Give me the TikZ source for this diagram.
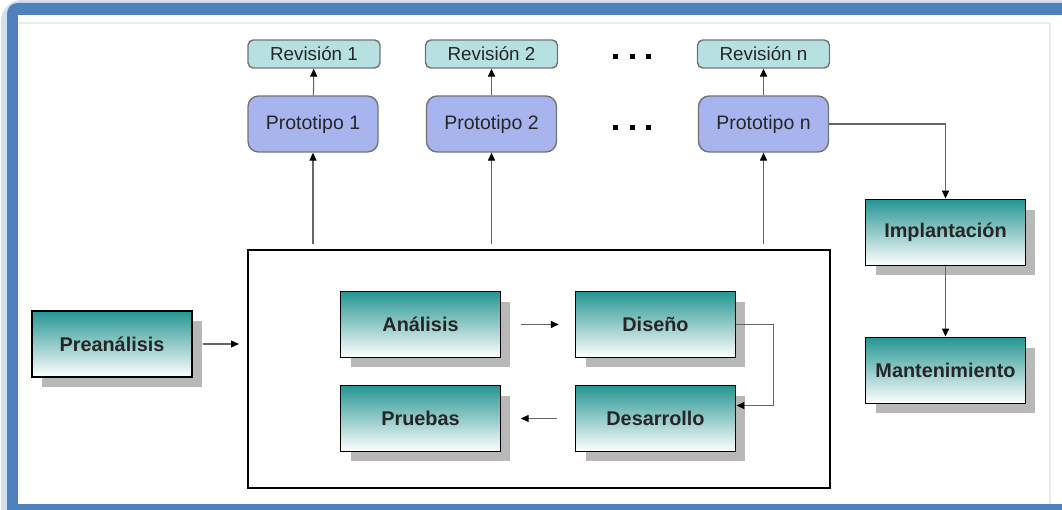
\documentclass[tikz,border=0pt]{standalone}
\usepackage{fontspec}
\setmainfont{Liberation Sans}
\usetikzlibrary{arrows.meta,shadows,calc}
\definecolor{marco}{RGB}{79,129,189}
\definecolor{revfill}{RGB}{182,225,224}
\definecolor{protofill}{RGB}{168,180,238}
\definecolor{fasetop}{RGB}{38,150,146}
\begin{document}
\begin{tikzpicture}[x=0.02cm,y=-0.02cm,
    revision/.style={draw=black!55,line width=0.8pt,rounded corners=3pt,fill=revfill,minimum width=2.64cm,minimum height=0.56cm,font=\fontsize{10.7}{12}\selectfont,text=black!85},
    prototipo/.style={draw=black!55,line width=0.8pt,rounded corners=6pt,fill=protofill,minimum width=2.6cm,minimum height=1.12cm,font=\fontsize{11.1}{13}\selectfont,text=black!85},
    fase/.style={draw=black,line width=1.1pt,top color=fasetop,bottom color=white,minimum width=3.2cm,minimum height=1.32cm,font=\bfseries\fontsize{11.3}{13}\selectfont,text=black!85,drop shadow={shadow xshift=0.2cm,shadow yshift=-0.2cm,fill=black!28,opacity=1}},
    flecha/.style={draw=black!60,line width=0.6pt,-{Triangle[length=4.5pt,width=4pt,color=black]}}]
    \clip (0,0) rectangle (1062,510);
    \fill[marco!25,rounded corners=12pt] (1,0) rectangle (1100,540);
    \fill[marco,rounded corners=6pt] (7,3) rectangle (1100,540);
    \fill[white] (18,15) rectangle (1062,504);
    \draw[black!8,line width=1.5pt] (18,23) -- (1050,23) -- (1050,504);
    \node[revision] (rev1) at (314,54) {Revisión 1};
    \node[revision] (rev2) at (491.5,54) {Revisión 2};
    \node[revision] (revn) at (763.5,54) {Revisión n};
    \node[prototipo] (proto1) at (313,124) {Prototipo 1};
    \node[prototipo] (proto2) at (491.5,124) {Prototipo 2};
    \node[prototipo] (proton) at (763.5,124) {Prototipo n};
    \foreach \x in {615,632,648} {
        \fill (\x-2.5,54.5) rectangle ++(5,5);
        \fill (\x-2.5,125.5) rectangle ++(5,5);
    }
    \node[draw,line width=1.4pt,minimum width=11.64cm,minimum height=4.76cm] (ciclo) at (539,369) {};
    \node[fase] (prean) at (112,344) {Preanálisis};
    \node[fase] (anal) at (420.5,324.5) {Análisis};
    \node[fase] (diseno) at (655.5,324.5) {Diseño};
    \node[fase] (pruebas) at (420.5,418.5) {Pruebas};
    \node[fase] (desarr) at (655.5,418.5) {Desarrollo};
    \node[fase] (impl) at (945.5,232.5) {Implantación};
    \node[fase] (mant) at (945.5,370.5) {Mantenimiento};
    \draw[flecha] (proto1) -- (rev1);
    \draw[flecha] (proto2) -- (rev2);
    \draw[flecha] (proton) -- (revn);
    \draw[flecha] ($(proto1 |- ciclo.north)+(0,-5)$) -- (proto1.south);
    \draw[flecha] ($(proto2 |- ciclo.north)+(0,-5)$) -- (proto2.south);
    \draw[flecha] ($(proton |- ciclo.north)+(0,-5)$) -- (proton.south);
    \draw[flecha,shorten <=5.5pt,shorten >=4.5pt] (prean.east) -- (prean.east -| ciclo.west);
    \draw[flecha,shorten <=11pt,shorten >=9pt] (anal) -- (diseno);
    \draw[flecha,shorten <=10pt,shorten >=11pt] (desarr) -- (pruebas);
    \draw[flecha] (diseno.east) -- ++(37,0) |- ($(desarr.east)+(0,-13)$);
    \draw[flecha] (proton.east) -| (impl.north);
    \draw[flecha] (impl) -- (mant);
\end{tikzpicture}
\end{document}
